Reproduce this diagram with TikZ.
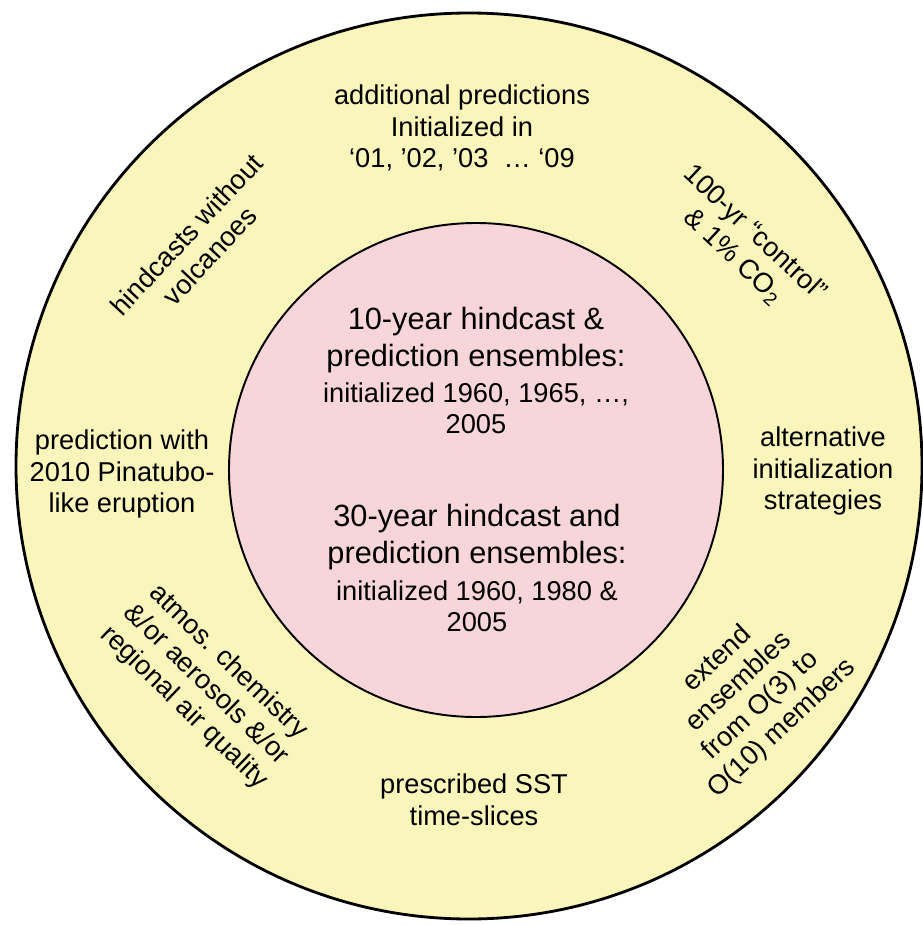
\documentclass[tikz,border=0pt]{standalone}
\usepackage{fontspec}
\setmainfont{Liberation Sans}
\definecolor{ringfill}{HTML}{FAF5BA}
\definecolor{corefill}{HTML}{F8D5D8}
\tikzset{
  ring edge/.style={fill=ringfill,draw=black,line width=1.6pt},
  core edge/.style={fill=corefill,draw=black,line width=1.1pt},
  ring text/.style={align=center,inner sep=0pt,font=\fontsize{15.5}{18}\selectfont},
  core head/.style={align=center,inner sep=0pt,font=\fontsize{17.5}{21}\selectfont},
  core dates/.style={align=center,inner sep=0pt,font=\fontsize{15.5}{17.5}\selectfont}
}
\begin{document}
\begin{tikzpicture}[x=0.2mm,y=-0.2mm]
  \useasboundingbox (0,0) rectangle (922,925);
  \draw[ring edge] (469,466) circle (453);
  \draw[core edge] (476,470) circle (247);
  % centre experiments
  \node[core head] (tenhead) at (476,340) {10-year hindcast \&\\prediction ensembles:};
  \node[core dates] (tendates) at (476,408) {initialized 1960, 1965, …,\\2005};
  \node[core head] (thirtyhead) at (477,537) {30-year hindcast and\\prediction ensembles:};
  \node[core dates] (thirtydates) at (477,606) {initialized 1960, 1980 \&\\2005};
  % ring experiments
  \node[ring text] (extra) at (462,128) {additional predictions\\Initialized in\\‘01, ’02, ’03 \ … ‘09};
  \node[ring text,rotate=47] (novolc) at (198,245) {hindcasts without\\volcanoes};
  \node[ring text,rotate=-43] (control) at (744,245) {100-yr “control”\\\& 1\% CO\textsubscript{2}};
  \node[ring text] (pinatubo) at (122,474) {prediction with\\2010 Pinatubo-\\like eruption};
  \node[ring text] (altinit) at (823,471) {alternative\\initialization\\strategies};
  \node[ring text,rotate=-44] (chem) at (206,685) {atmos. chemistry\\\&/or aerosols \&/or\\regional air quality};
  \node[ring text] (sst) at (474,800) {prescribed SST\\time-slices};
  \node[ring text,rotate=43] (members) at (750,694) {extend\\ensembles\\from O(3) to\\O(10) members};
\end{tikzpicture}
\end{document}
